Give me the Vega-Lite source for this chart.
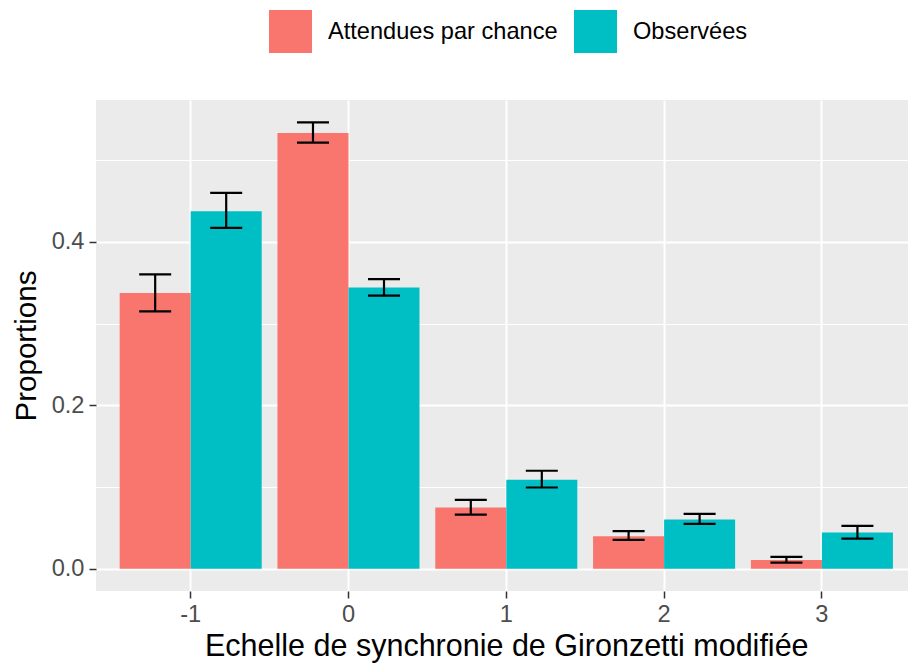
{
  "$schema": "https://vega.github.io/schema/vega-lite/v6.json",
  "autosize": {"type": "none"},
  "width": 812,
  "height": 491,
  "padding": {"left": 96, "top": 100, "right": 0, "bottom": 75},
  "background": "white",
  "config": {
    "font": "Liberation Sans",
    "view": {"fill": "#EBEBEB", "stroke": null},
    "axis": {"domain": false, "gridColor": "white", "tickColor": "#333333", "tickWidth": 1.5, "tickSize": 7,
             "labelColor": "#4D4D4D", "labelFontSize": 23.6, "labelFont": "Liberation Sans",
             "titleFont": "Liberation Sans", "titleFontSize": 29.5, "titleFontWeight": "normal", "titleColor": "black"}
  },
  "data": {"values": [
    {"cat": "-1", "group": "Attendues par chance", "p": 0.3374, "lo": 0.3150, "hi": 0.3604},
    {"cat": "-1", "group": "Observées", "p": 0.4377, "lo": 0.4172, "hi": 0.4601},
    {"cat": "0", "group": "Attendues par chance", "p": 0.5334, "lo": 0.5215, "hi": 0.5465},
    {"cat": "0", "group": "Observées", "p": 0.3444, "lo": 0.3342, "hi": 0.3546},
    {"cat": "1", "group": "Attendues par chance", "p": 0.0748, "lo": 0.0663, "hi": 0.0843},
    {"cat": "1", "group": "Observées", "p": 0.1088, "lo": 0.0994, "hi": 0.1199},
    {"cat": "2", "group": "Attendues par chance", "p": 0.0397, "lo": 0.0352, "hi": 0.0459},
    {"cat": "2", "group": "Observées", "p": 0.0601, "lo": 0.0548, "hi": 0.0671},
    {"cat": "3", "group": "Attendues par chance", "p": 0.0107, "lo": 0.0074, "hi": 0.0144},
    {"cat": "3", "group": "Observées", "p": 0.0442, "lo": 0.0368, "hi": 0.0524}
  ]},
  "encoding": {
    "x": {"field": "cat", "type": "nominal", "sort": ["-1", "0", "1", "2", "3"],
          "scale": {"domain": ["-1", "0", "1", "2", "3"], "range": [0, 820.6], "paddingInner": 0.1, "paddingOuter": 0.15},
          "axis": {"title": "Echelle de synchronie de Gironzetti modifiée", "titleFontSize": 30.5, "labelAngle": 0, "labelPadding": 4, "titlePadding": 6, "gridWidth": 2, "grid": true, "bandPosition": 0.5}},
    "xOffset": {"field": "group", "type": "nominal", "scale": {"domain": ["Attendues par chance", "Observées"], "paddingInner": 0, "paddingOuter": 0}}
  },
  "layer": [
    {
      "mark": {"type": "bar", "clip": true},
      "encoding": {
        "y": {"field": "p", "type": "quantitative",
              "scale": {"domain": [-0.0273, 0.5738], "nice": false, "zero": false},
              "axis": {"title": "Proportions", "values": [0, 0.1, 0.2, 0.3, 0.4, 0.5],
                       "labelExpr": "round(datum.value*10) % 2 === 0 ? format(datum.value, '.1f') : ''",
                       "gridWidth": {"condition": {"test": "round(datum.value*10) % 2 === 0", "value": 2}, "value": 1},
                       "tickOpacity": {"condition": {"test": "round(datum.value*10) % 2 === 0", "value": 1}, "value": 0},
                       "labelPadding": 5, "titlePadding": 10}},
        "color": {"field": "group", "type": "nominal",
                  "scale": {"domain": ["Attendues par chance", "Observées"], "range": ["#F8766D", "#00BFC4"]},
                  "legend": {"title": null, "orient": "none", "direction": "horizontal", "legendX": 173, "legendY": -90,
                             "symbolType": "square", "symbolSize": 1849, "symbolStrokeWidth": 0, "symbolOpacity": 1,
                             "labelFontSize": 23.6, "labelColor": "black", "labelFont": "Liberation Sans", "labelLimit": 0,
                             "labelOffset": 16, "columnPadding": 16, "padding": 0}}
      }
    },
    {
      "mark": {"type": "rule", "color": "black", "strokeWidth": 2.2, "clip": true},
      "encoding": {"y": {"field": "lo", "type": "quantitative"}, "y2": {"field": "hi"}}
    },
    {
      "mark": {"type": "tick", "color": "black", "thickness": 2.2, "size": 32, "clip": true, "opacity": 1},
      "encoding": {"y": {"field": "lo", "type": "quantitative"}}
    },
    {
      "mark": {"type": "tick", "color": "black", "thickness": 2.2, "size": 32, "clip": true, "opacity": 1},
      "encoding": {"y": {"field": "hi", "type": "quantitative"}}
    }
  ]
}
